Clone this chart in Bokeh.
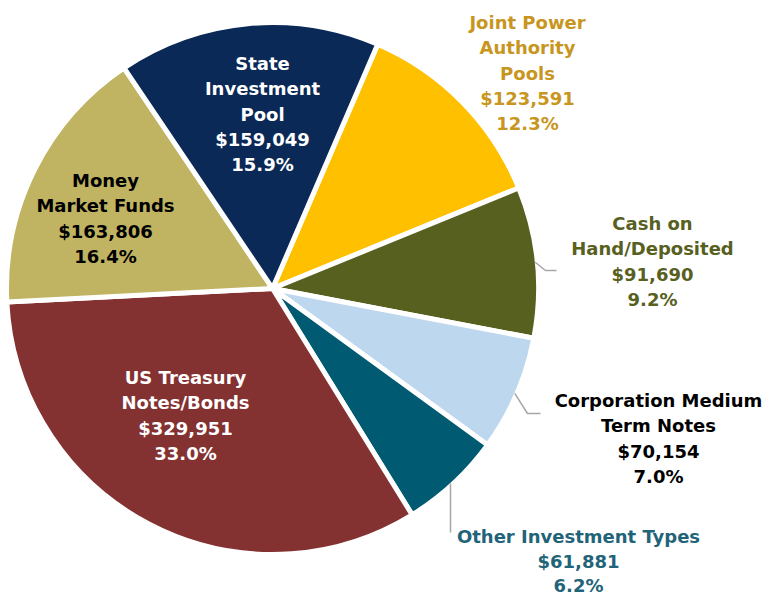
import math
from bokeh.plotting import figure
from bokeh.models import Range1d, ColumnDataSource
from bokeh.core.properties import value
from bokeh.embed import file_html
from bokeh.resources import INLINE

# ---- data ----
categories = ["Joint Power Authority Pools", "Cash on Hand/Deposited",
              "Corporation Medium Term Notes", "Other Investment Types",
              "US Treasury Notes/Bonds", "Money Market Funds", "State Investment Pool"]
amounts = [123591, 91690, 70154, 61881, 329951, 163806, 159049]
percents = [12.3, 9.2, 7.0, 6.2, 33.0, 16.4, 15.9]
name_lines = [["Joint Power", "Authority", "Pools"],
              ["Cash on", "Hand/Deposited"],
              ["Corporation Medium", "Term Notes"],
              ["Other Investment Types"],
              ["US Treasury", "Notes/Bonds"],
              ["Money", "Market Funds"],
              ["State", "Investment", "Pool"]]

# ---- styles / layout ----
slice_colors = ["#FFC000", "#58601F", "#BDD7EE", "#005A72", "#843131", "#C0B462", "#0A2956"]
label_colors = ["#C8961E", "#58601F", "#000000", "#1F6478", "#FFFFFF", "#000000", "#FFFFFF"]
# (center x, first-line y) in page pixels
label_pos = [(527, 22), (652, 223), (658, 400), (578, 536), (185, 377), (105, 180), (262, 63)]
line_step = 25.3
cx, cy_page, R = 272, 288, 266
start_clock = 23.3  # degrees clockwise from 12 o'clock

W, H = 768, 600
p = figure(width=W, height=H, output_backend="svg", toolbar_location=None,
           x_range=Range1d(0, W), y_range=Range1d(0, H),
           min_border=0, outline_line_color=None)
p.axis.visible = False
p.grid.visible = False
p.background_fill_color = "white"

def py(y_page):
    return H - y_page

total = float(sum(amounts))
starts, ends, mids = [], [], []
acc = start_clock
for a in amounts:
    span = a / total * 360.0
    t0, t1 = acc, acc + span
    starts.append(math.radians(90 - t1))
    ends.append(math.radians(90 - t0))
    mids.append((t0 + t1) / 2)
    acc = t1

src = ColumnDataSource(dict(start=starts, end=ends, color=slice_colors))
p.wedge(x=cx, y=py(cy_page), radius=R, start_angle="start", end_angle="end",
        fill_color="color", line_color="white", line_width=5, source=src)

# leader lines for outside labels
leaders = {1: [(545, 270), (556, 270)], 2: [(527, 413), (540, 413)], 3: [(450, 532)]}
for i, pts in leaders.items():
    th = math.radians(mids[i])
    x0 = cx + (R - 2) * math.sin(th)
    y0 = cy_page - (R - 2) * math.cos(th)
    if i == 3:
        x0 = pts[0][0]
        y0 = cy_page + math.sqrt((R - 2) ** 2 - (x0 - cx) ** 2)
    xs = [x0] + [q[0] for q in pts]
    ys = [py(y0)] + [py(q[1]) for q in pts]
    p.line(xs, ys, line_color="#A6A6A6", line_width=1.5)

# labels
tx, ty, tt, tc = [], [], [], []
for i in range(len(categories)):
    lines = name_lines[i] + ["${:,}".format(amounts[i]), "{:.1f}%".format(percents[i])]
    x0, y0 = label_pos[i]
    step = 24.5 if i == 3 else line_step
    for j, s in enumerate(lines):
        tx.append(x0)
        ty.append(py(y0 + j * step))
        tt.append(s)
        tc.append(label_colors[i])
p.text(x=tx, y=ty, text=tt, text_color=tc, text_align="center", text_baseline="middle",
       text_font=value("DejaVu Sans"), text_font_style="bold", text_font_size="18px")

open("out.html", "w").write(file_html(p, INLINE))
